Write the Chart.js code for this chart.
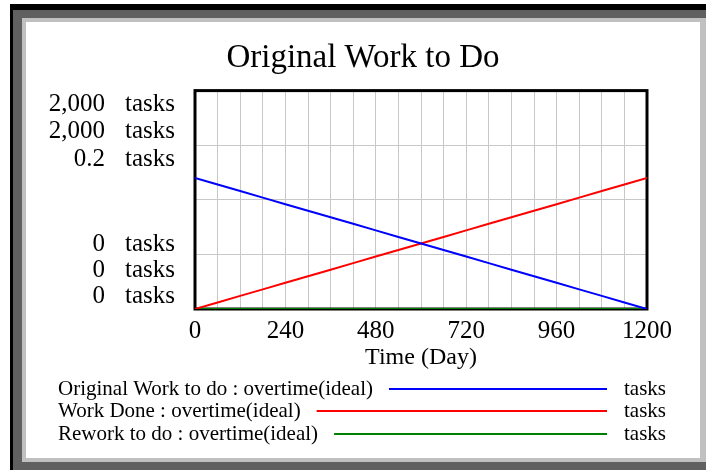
<!DOCTYPE html>
<html>
<head>
<meta charset="utf-8">
<script src="https://cdn.jsdelivr.net/npm/chart.js@4"></script>
<style>
  body { margin: 0; background: #fff; }
  #wrap { position: relative; width: 706px; height: 470px; overflow: hidden; }
  .f { position: absolute; }
  #c { position: absolute; left: 0; top: 0; }
</style>
</head>
<body>
<div id="wrap">
  <div class="f" style="left:10px;top:4px;width:720px;height:480px;background:#000"></div>
  <div class="f" style="left:13px;top:10px;width:720px;height:480px;background:#606060"></div>
  <div class="f" style="left:22px;top:18px;width:700px;height:444px;background:#c0c0c0"></div>
  <div class="f" style="left:26px;top:22px;width:674px;height:436px;background:#fff"></div>
  <canvas id="c" width="706" height="470"></canvas>
</div>
<script>
// data
var days = [0, 60, 120, 180, 240, 300, 360, 420, 480, 540, 600, 660, 720, 780, 840, 900, 960, 1020, 1080, 1140, 1200];
var originalWork = [1200, 1140, 1080, 1020, 960, 900, 840, 780, 720, 660, 600, 540, 480, 420, 360, 300, 240, 180, 120, 60, 0];
var workDone = [0, 60, 120, 180, 240, 300, 360, 420, 480, 540, 600, 660, 720, 780, 840, 900, 960, 1020, 1080, 1140, 1200];
var reworkToDo = [0, 0, 0, 0, 0, 0, 0, 0, 0, 0, 0, 0, 0, 0, 0, 0, 0, 0, 0, 0, 0];
var seriesNames = ["Original Work to do : overtime(ideal)", "Work Done : overtime(ideal)", "Rework to do : overtime(ideal)"];
var seriesColors = ["#0000ff", "#ff0000", "#008000"];
var axisMaxLabels = ["2,000", "2,000", "0.2"];
var axisMinLabels = ["0", "0", "0"];
var unitLabel = "tasks";

var FONT = "'Liberation Serif', 'Times New Roman', serif";

function pts(vals) {
    var out = [];
    for (var i = 0; i < days.length; i++) out.push({ x: days[i], y: vals[i] });
    return out;
}

var framePlugin = {
    id: "frame",
    beforeDatasetsDraw: function (chart) {
        var a = chart.chartArea, ctx = chart.ctx;
        ctx.save();
        ctx.strokeStyle = "#000";
        ctx.lineWidth = 3;
        ctx.strokeRect(a.left, a.top, a.right - a.left, a.bottom - a.top);
        ctx.restore();
    },
    afterDraw: function (chart) {
        var a = chart.chartArea, ctx = chart.ctx;
        ctx.save();
        ctx.fillStyle = "#000";
        ctx.textBaseline = "middle";
        // stacked axis labels, Vensim style
        ctx.font = "25px " + FONT;
        var topRows = [14, 41, 69], botRows = [65, 39, 13];
        for (var i = 0; i < axisMaxLabels.length; i++) {
            ctx.textAlign = "right";
            ctx.fillText(axisMaxLabels[i], 105, a.top + topRows[i]);
            ctx.textAlign = "left";
            ctx.fillText(unitLabel, 125, a.top + topRows[i]);
        }
        for (var j = 0; j < axisMinLabels.length; j++) {
            ctx.textAlign = "right";
            ctx.fillText(axisMinLabels[j], 105, a.bottom - botRows[j]);
            ctx.textAlign = "left";
            ctx.fillText(unitLabel, 125, a.bottom - botRows[j]);
        }
        // legend
        ctx.font = "21px " + FONT;
        var rows = [389, 411, 434];
        for (var k = 0; k < seriesNames.length; k++) {
            ctx.textAlign = "left";
            ctx.fillStyle = "#000";
            ctx.fillText(seriesNames[k], 58, rows[k]);
            var w = ctx.measureText(seriesNames[k]).width;
            ctx.strokeStyle = seriesColors[k];
            ctx.lineWidth = 2;
            ctx.beginPath();
            ctx.moveTo(58 + w + 16, rows[k]);
            ctx.lineTo(607, rows[k]);
            ctx.stroke();
            ctx.fillText(unitLabel, 624, rows[k]);
        }
        ctx.restore();
    }
};

new Chart(document.getElementById("c"), {
    type: "line",
    data: {
        datasets: [
            { label: seriesNames[0], data: pts(originalWork), borderColor: seriesColors[0], borderWidth: 2, pointRadius: 0, yAxisID: "y" },
            { label: seriesNames[1], data: pts(workDone), borderColor: seriesColors[1], borderWidth: 2, pointRadius: 0, yAxisID: "y" },
            { label: seriesNames[2], data: pts(reworkToDo), borderColor: seriesColors[2], borderWidth: 2, pointRadius: 0, yAxisID: "yRw" }
        ]
    },
    options: {
        responsive: false,
        animation: false,
        devicePixelRatio: 1,
        layout: { padding: { left: 20, right: 0, top: 0, bottom: 98 } },
        plugins: {
            legend: { display: false },
            tooltip: { enabled: false },
            title: {
                display: true,
                text: "Original Work to Do",
                color: "#000",
                font: { family: FONT, size: 33, weight: "normal" },
                padding: { top: 39, bottom: 12 }
            }
        },
        scales: {
            x: {
                type: "linear",
                min: 0,
                max: 1200,
                border: { display: false },
                grid: { color: "#c8c8c8", lineWidth: 1, drawTicks: false },
                ticks: {
                    stepSize: 60,
                    autoSkip: false,
                    maxRotation: 0,
                    padding: 7,
                    color: "#000",
                    font: { family: FONT, size: 25 },
                    callback: function (v) { return v % 240 === 0 ? String(v) : ""; }
                },
                title: {
                    display: true,
                    text: "Time (Day)",
                    color: "#000",
                    font: { family: FONT, size: 24 },
                    padding: { top: 0, bottom: 0 }
                },
                afterFit: function (s) { s.height = 63; }
            },
            y: {
                position: "left",
                min: 0,
                max: 2000,
                border: { display: false },
                grid: { color: "#c8c8c8", lineWidth: 1, drawTicks: false },
                ticks: { display: false, stepSize: 500 },
                afterFit: function (s) { s.width = 175; }
            },
            yRw: {
                position: "right",
                min: 0,
                max: 0.2,
                border: { display: false },
                grid: { display: false },
                ticks: { display: false },
                afterFit: function (s) { s.width = 59; }
            }
        }
    },
    plugins: [framePlugin]
});
</script>
</body>
</html>
